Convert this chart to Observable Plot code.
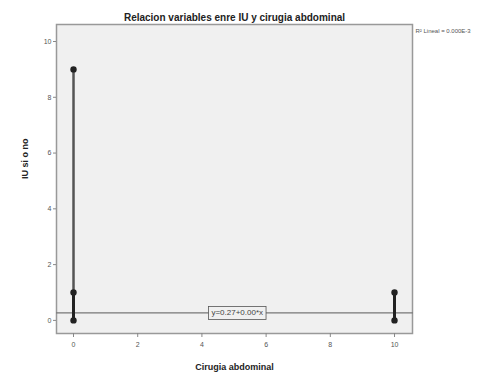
<!DOCTYPE html>
<html><head><meta charset="utf-8">
<script src="https://cdn.jsdelivr.net/npm/d3@7"></script>
<script src="https://cdn.jsdelivr.net/npm/@observablehq/plot@0.6"></script>
<style>body{margin:0;background:#fff;font-family:"Liberation Sans",Arial,sans-serif;}</style>
</head><body><div id="chart"></div>
<script>
const titleText = "Relacion variables enre IU y cirugia abdominal";
const xLabel = "Cirugia abdominal";
const yLabel = "IU si o no";
const surgery = [0, 0, 0, 10, 10];
const iu = [0, 1, 9, 0, 1];
const xTicks = [0, 2, 4, 6, 8, 10];
const yTicks = [0, 2, 4, 6, 8, 10];
const fitIntercept = 0.27;
const fitSlope = 0.0;
const fitLabel = "y=0.27+0.00*x";
const r2Label = "R² Lineal = 0.000E-3";

const pts = surgery.map((s, i) => ({x: s, y: iu[i]}));
const groups = d3.groups(pts, d => d.x).map(([x, arr]) => ({x, lo: d3.min(arr, d => d.y), hi: d3.max(arr, d => d.y)}));
const xDom = [-0.53, 10.56];
const fit = xDom.map(x => ({x, y: fitIntercept + fitSlope * x}));

const chart = Plot.plot({
  width: 491, height: 378,
  marginLeft: 56, marginRight: 79, marginTop: 24, marginBottom: 45,
  style: {fontFamily: "Liberation Sans, Arial, sans-serif", fontSize: "7px", color: "#333"},
  x: {domain: xDom, ticks: xTicks, tickSize: 4, label: null, tickFormat: d => String(d)},
  y: {domain: [-0.47, 10.61], ticks: yTicks, tickSize: 3, label: null, tickFormat: d => String(d)},
  marks: [
    Plot.frame({fill: "#f0f0f0", stroke: "#999", strokeWidth: 1.5}),
    Plot.axisX({ticks: xTicks, tickSize: 4, stroke: "#888", fill: "#555", fontSize: 7, tickPadding: 5}),
    Plot.axisY({ticks: yTicks, tickSize: 3, stroke: "#888", fill: "#555", fontSize: 7, tickPadding: 2}),
    Plot.line(fit, {x: "x", y: "y", stroke: "#777", strokeWidth: 1.2}),
    Plot.ruleX(groups, {x: "x", y1: "lo", y2: "hi", stroke: "#555", strokeWidth: 2.5}),
    Plot.ruleX(groups, {x: "x", y1: "lo", y2: d => Math.min(1, d.hi), stroke: "#222", strokeWidth: 3}),
    Plot.dot(pts, {x: "x", y: "y", r: 3.2, fill: "#222", stroke: "none"}),
    Plot.text([fitLabel], {x: 5.1, y: fitIntercept + fitSlope * 5.1, text: d => d, fill: "#444", fontSize: 8, className: "fitlab"}),
    Plot.text([titleText], {frameAnchor: "top", lineAnchor: "bottom", dy: -4, text: d => d, fontSize: 10, fontWeight: "bold", fill: "#222"}),
    Plot.text([xLabel], {frameAnchor: "bottom", lineAnchor: "bottom", dy: 36, text: d => d, fontSize: 9, fontWeight: "bold", fill: "#222"}),
    Plot.text([yLabel], {frameAnchor: "left", dx: -31, rotate: -90, text: d => d, fontSize: 9, fontWeight: "bold", fill: "#222"}),
    Plot.text([r2Label], {frameAnchor: "top-right", dx: 3, dy: 4, textAnchor: "start", text: d => d, fontSize: 6, fill: "#555"})
  ]
});
document.getElementById("chart").appendChild(chart);
// box around fit label
d3.select(chart).selectAll("g.fitlab text").each(function(){
  const b = this.getBBox();
  const tr = this.getAttribute("transform");
  const r = d3.select(this.parentNode).insert("rect", () => this)
    .attr("x", b.x - 3).attr("y", b.y - 2).attr("width", b.width + 6).attr("height", b.height + 4)
    .attr("fill", "#f0f0f0").attr("stroke", "#555").attr("stroke-width", 0.8);
  if (tr) r.attr("transform", tr);
});
</script></body></html>
